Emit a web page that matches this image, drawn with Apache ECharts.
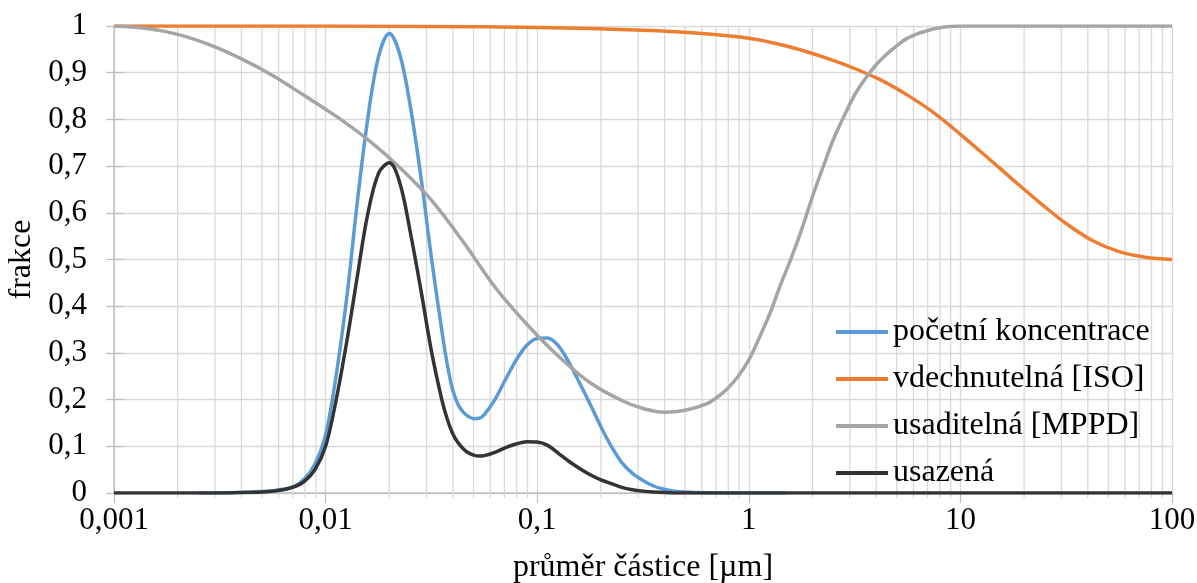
<!DOCTYPE html>
<html><head><meta charset="utf-8">
<script src="https://cdn.jsdelivr.net/npm/echarts@6/dist/echarts.min.js"></script>
<style>html,body{margin:0;padding:0;background:#fff}#c{width:1197px;height:583px}</style>
</head><body><div id="c"></div>
<script>
const seriesNames = ['početní koncentrace', 'vdechnutelná [ISO]', 'usaditelná [MPPD]', 'usazená'];
const xAxisTitle = 'průměr částice [µm]';
const yAxisTitle = 'frakce';

// početní koncentrace
const countX = [0.00251, 0.00398, 0.00501, 0.00562, 0.00631, 0.00708, 0.00794, 0.00891, 0.01, 0.0112, 0.0126, 0.0141, 0.0158, 0.0178, 0.02, 0.0224, 0.0251, 0.0282, 0.0316, 0.0355, 0.0376, 0.0398, 0.0422, 0.0447, 0.0473, 0.0501, 0.0531, 0.0562, 0.0631, 0.0708, 0.0794, 0.0891, 0.1, 0.112, 0.126, 0.141, 0.158, 0.178, 0.2, 0.224, 0.251, 0.282, 0.316, 0.355, 0.398, 0.447, 0.501, 0.631, 1, 1.5];
const countY = [0, 0.001, 0.003, 0.005, 0.008, 0.014, 0.03, 0.062, 0.125, 0.25, 0.42, 0.62, 0.8, 0.935, 0.984, 0.94, 0.83, 0.678, 0.505, 0.345, 0.275, 0.222, 0.19, 0.173, 0.164, 0.159, 0.16, 0.168, 0.2, 0.243, 0.284, 0.316, 0.331, 0.332, 0.315, 0.28, 0.237, 0.19, 0.142, 0.1, 0.065, 0.042, 0.027, 0.015, 0.008, 0.004, 0.002, 0.0005, 0, 0];

// vdechnutelná [ISO]
const inhalX = [0.001, 0.01, 0.0316, 0.1, 0.316, 0.562, 1, 1.33, 1.78, 2.37, 3.16, 4.22, 5.62, 7.5, 10, 13.3, 17.8, 23.7, 31.6, 42.2, 56.2, 75, 100];
const inhalY = [1.0, 1.0, 0.999, 0.997, 0.991, 0.985, 0.974, 0.963, 0.948, 0.93, 0.909, 0.884, 0.852, 0.814, 0.768, 0.72, 0.67, 0.622, 0.577, 0.54, 0.517, 0.505, 0.5];

// usaditelná [MPPD]
const depositX = [0.001, 0.00141, 0.002, 0.00282, 0.00398, 0.00562, 0.00794, 0.0112, 0.0158, 0.0224, 0.0316, 0.0447, 0.0631, 0.0891, 0.126, 0.178, 0.251, 0.316, 0.398, 0.501, 0.631, 0.708, 0.794, 0.891, 1, 1.12, 1.26, 1.41, 1.58, 1.78, 2, 2.24, 2.51, 2.82, 3.16, 3.55, 3.98, 4.47, 5.01, 5.62, 6.31, 7.08, 7.94, 8.91, 10, 100];
const depositY = [1.0, 0.995, 0.982, 0.96, 0.93, 0.894, 0.851, 0.807, 0.757, 0.697, 0.627, 0.538, 0.441, 0.362, 0.293, 0.236, 0.198, 0.181, 0.173, 0.177, 0.191, 0.205, 0.224, 0.25, 0.285, 0.332, 0.385, 0.445, 0.501, 0.565, 0.635, 0.697, 0.757, 0.807, 0.852, 0.887, 0.916, 0.939, 0.958, 0.974, 0.984, 0.991, 0.996, 0.999, 1.0, 1.0];

// usazená
const depX = [0.001, 0.00251, 0.00398, 0.00501, 0.00562, 0.00631, 0.00708, 0.00794, 0.00891, 0.01, 0.0112, 0.0126, 0.0141, 0.0158, 0.0178, 0.02, 0.0224, 0.0251, 0.0282, 0.0316, 0.0355, 0.0376, 0.0398, 0.0422, 0.0447, 0.0473, 0.0501, 0.0531, 0.0562, 0.0631, 0.0708, 0.0794, 0.0891, 0.1, 0.112, 0.126, 0.141, 0.158, 0.178, 0.2, 0.224, 0.251, 0.282, 0.316, 0.355, 0.398, 0.501, 1, 10, 100];
const depY = [0, 0, 0.001, 0.002, 0.004, 0.007, 0.013, 0.025, 0.05, 0.1, 0.198, 0.325, 0.462, 0.596, 0.685, 0.707, 0.665, 0.56, 0.435, 0.305, 0.198, 0.158, 0.128, 0.108, 0.095, 0.086, 0.081, 0.079, 0.08, 0.087, 0.097, 0.105, 0.11, 0.109, 0.102, 0.085, 0.068, 0.053, 0.039, 0.028, 0.02, 0.012, 0.007, 0.004, 0.002, 0.001, 0, 0, 0, 0];

const minorGridX = [0.002, 0.003, 0.004, 0.005, 0.006, 0.007, 0.008, 0.009,
  0.02, 0.03, 0.04, 0.05, 0.06, 0.07, 0.08, 0.09,
  0.2, 0.3, 0.4, 0.5, 0.6, 0.7, 0.8, 0.9,
  2, 3, 4, 5, 6, 7, 8, 9,
  20, 30, 40, 50, 60, 70, 80, 90];

const colors = ['#5b9bd5', '#ed7d31', '#a5a5a5', '#333333'];
const FONT = '"Liberation Serif", "Times New Roman", serif';
const zip = (xs, ys) => xs.map((x, i) => [x, ys[i]]);
const fmt = v => String(+(+v).toPrecision(6)).replace('.', ',');

const chart = echarts.init(document.getElementById('c'), null, {renderer: 'canvas'});
const lineSeries = [[countX, countY], [inhalX, inhalY], [depositX, depositY], [depX, depY]].map((d, i) => ({
  name: seriesNames[i], type: 'line', data: zip(d[0], d[1]), showSymbol: false, symbol: 'none',
  smooth: 0.35, lineStyle: {color: colors[i], width: 3.5}, itemStyle: {color: colors[i]}, z: 3 + i
}));

chart.setOption({
  animation: false,
  backgroundColor: '#fff',
  grid: {left: 114, right: 25, top: 26, bottom: 90, containLabel: false, outerBoundsMode: 'none'},
  legend: {
    data: seriesNames, orient: 'vertical', left: 831, top: 309,
    icon: 'rect', itemWidth: 52, itemHeight: 4, itemGap: 11,
    textStyle: {fontFamily: FONT, fontSize: 32, color: '#000', lineHeight: 36, padding: [0, 0, 0, 0]}
  },
  xAxis: {
    type: 'log', logBase: 10, min: 0.001, max: 100,
    name: xAxisTitle, nameLocation: 'middle', nameGap: 59,
    nameTextStyle: {fontFamily: FONT, fontSize: 32, color: '#000'},
    axisLine: {show: true, onZero: false, lineStyle: {color: '#bfbfbf', width: 1.5}},
    axisTick: {show: true, length: 10, lineStyle: {color: '#bfbfbf', width: 1.3}},
    axisLabel: {fontFamily: FONT, fontSize: 31, color: '#000', margin: 12, formatter: fmt},
    splitLine: {show: true, lineStyle: {color: '#d9d9d9', width: 1.3}}
  },
  yAxis: [{
    type: 'value', min: 0, max: 1, interval: 0.1,
    name: yAxisTitle, nameLocation: 'middle', nameGap: 76, nameRotate: 90,
    nameTextStyle: {fontFamily: FONT, fontSize: 32, color: '#000'},
    axisLine: {show: true, lineStyle: {color: '#bfbfbf', width: 1.5}},
    axisTick: {show: true, length: 8, lineStyle: {color: '#bfbfbf', width: 1.3}},
    axisLabel: {fontFamily: FONT, fontSize: 31, color: '#000', margin: 27, formatter: fmt},
    splitLine: {show: true, lineStyle: {color: '#d9d9d9', width: 1.3}}
  }, {
    type: 'value', min: 0, max: 1, interval: 0.1, position: 'left',
    axisLine: {show: false}, axisLabel: {show: false}, splitLine: {show: false},
    axisTick: {show: true, inside: true, length: 10, lineStyle: {color: '#bfbfbf', width: 1.3}}
  }],
  series: [{
    type: 'custom', name: 'minorGrid', silent: true, clip: false, z: 1,
    data: minorGridX.map(v => [v, 0]), encode: {x: 0, y: 1},
    renderItem: function (params, api) {
      const t = api.coord([api.value(0), 1]);
      const b = api.coord([api.value(0), 0]);
      return {type: 'line', shape: {x1: t[0], y1: t[1], x2: b[0], y2: b[1] + 5},
        style: {stroke: '#d9d9d9', lineWidth: 1.3}};
    }
  }].concat(lineSeries)
});
</script></body></html>
